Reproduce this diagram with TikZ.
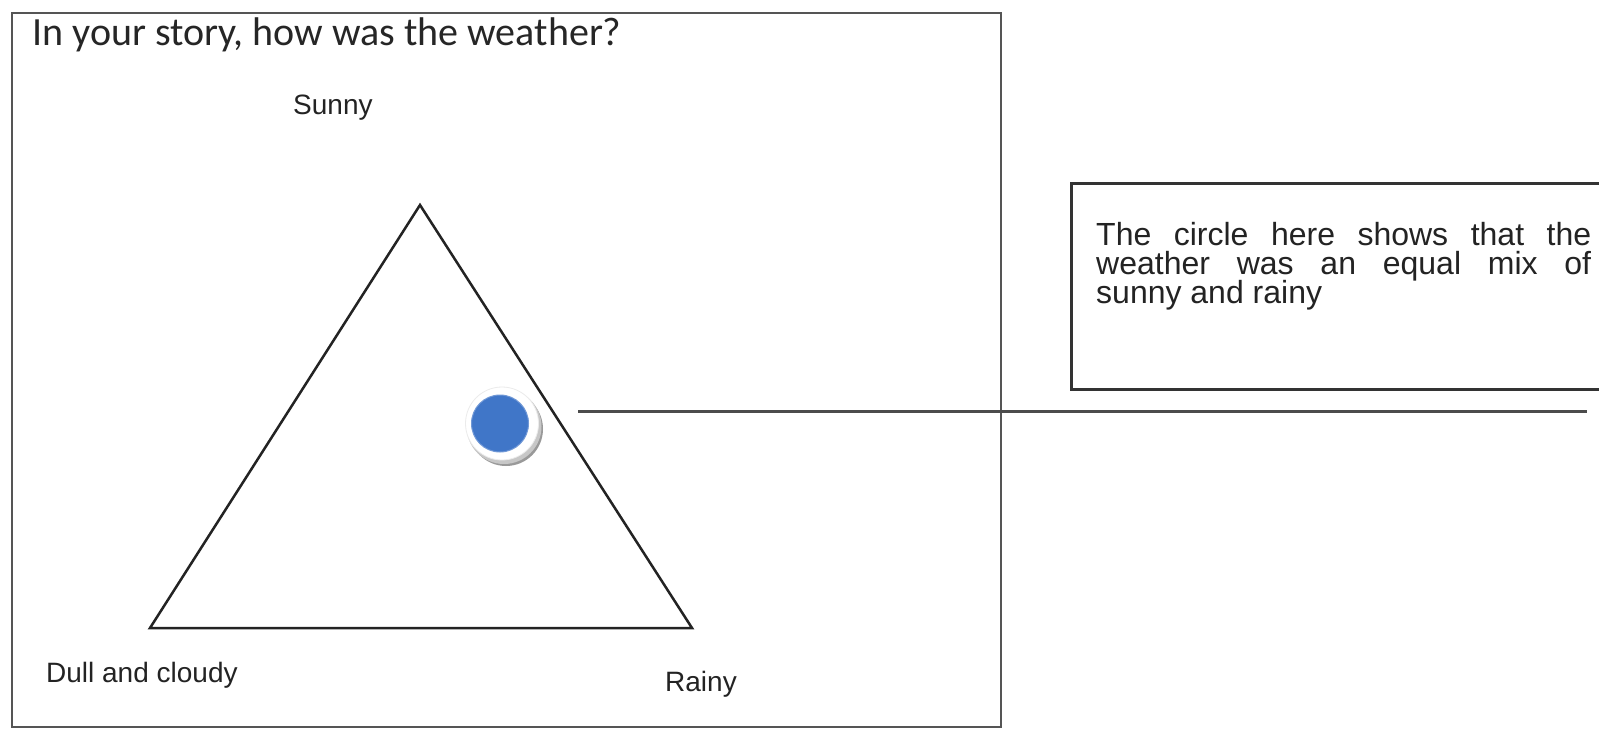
\documentclass[tikz,border=0pt]{standalone}
\usepackage{fontspec}
\setmainfont{Liberation Sans}
\newfontfamily\calibri{Carlito}
\definecolor{dotblue}{RGB}{64,118,200}
\definecolor{framegray}{RGB}{85,85,85}
\definecolor{inkdark}{RGB}{35,35,35}
\tikzset{
  lbl/.style={inner sep=0pt, anchor=base west, text=inkdark, font=\fontsize{28}{32}\selectfont},
  titletext/.style={inner sep=0pt, anchor=base west, text=black!85, font=\calibri\fontsize{40}{44}\selectfont},
  notetext/.style={inner sep=0pt, anchor=base west, text=inkdark, font=\fontsize{32}{34}\selectfont},
  outerframe/.style={draw=framegray, line width=2pt},
  noteframe/.style={draw=black!80, line width=3pt},
  tri/.style={draw=inkdark, line width=2.5pt, line join=miter},
  pointer/.style={draw=black!70, line width=2.5pt}
}
\begin{document}
\begin{tikzpicture}[x=1pt,y=-1pt]
\useasboundingbox (0,0) rectangle (1599,729);
\clip (0,0) rectangle (1599,729);
\fill[white] (0,0) rectangle (1599,729);
% outer frame
\draw[outerframe] (11.5,12.5) rectangle (1001,727);
% callout frame (right edge runs off the picture)
\draw[noteframe] (1071,183) rectangle (1640,389);
% title and labels
\node[titletext] (title) at (32,45) {In your story, how was the weather?};
\node[lbl] (sunny) at (293,114) {Sunny};
\node[lbl] (dull) at (46,682) {Dull and cloudy};
\node[lbl] (rainy) at (665,691) {Rainy};
% triangle
\coordinate (apex) at (420,205);
\coordinate (bl) at (150,628);
\coordinate (br) at (692,628);
\draw[tri] (apex) -- (bl) -- (br) -- cycle;
% pointer line
\coordinate (ls) at (578,411.5);
\coordinate (le) at (1587,411.5);
\draw[pointer] (ls) -- (le);
% dot with ring and shadow
\node[circle, fill=black!40, minimum size=74pt, inner sep=0pt] (shadow) at (506,429) {};
\node[circle, fill=black!22, minimum size=75pt, inner sep=0pt] (shadow2) at (504,426.5) {};
\node[circle, fill=white, draw=black!8, line width=0.8pt, minimum size=73pt, inner sep=0pt] (ring) at (502,423.5) {};
\node[circle, fill=dotblue, draw=dotblue!75!white, line width=1pt, minimum size=57pt, inner sep=0pt] (dot) at (500,423.5) {};
% note text
\node[notetext] (note1) at (1096,245) {\makebox[495pt][s]{The circle here shows that the}};
\node[notetext] (note2) at (1096,274) {\makebox[495pt][s]{weather was an equal mix of}};
\node[notetext] (note3) at (1096,303) {sunny and rainy};
\end{tikzpicture}
\end{document}
